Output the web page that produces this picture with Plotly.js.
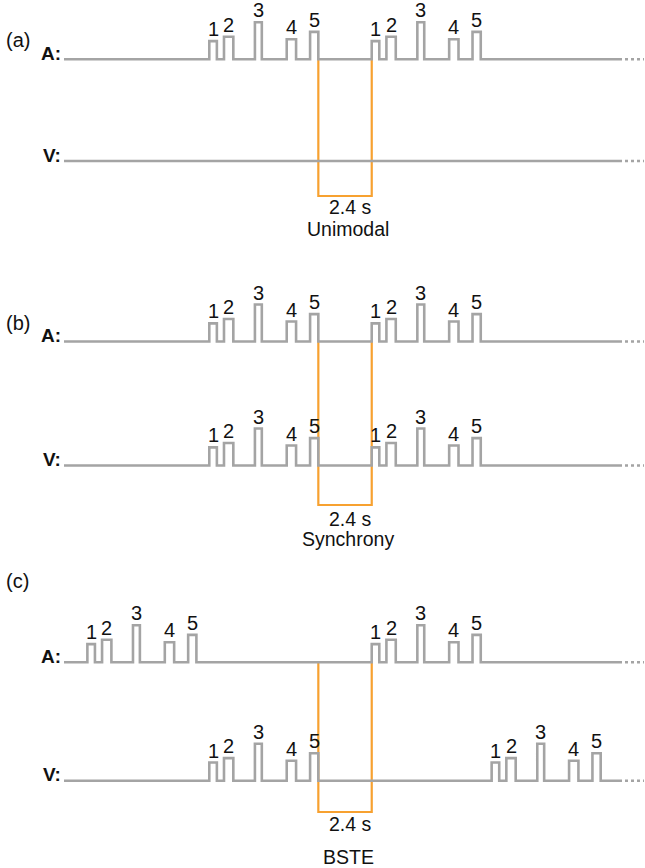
<!DOCTYPE html>
<html>
<head>
<meta charset="utf-8">
<script src="https://cdn.plot.ly/plotly-3.0.1.min.js"></script>
<style>html,body{margin:0;padding:0;background:#fff;}#chart{width:645px;height:868px;}</style>
</head>
<body>
<div id="chart"></div>
<script>
// ---------------- data ----------------
const pulseNumbers = ['1', '2', '3', '4', '5'];
const pulseOnset   = [0.00, 0.66, 2.05, 3.48, 4.53];   // s, from sequence start
const pulseOffset  = [0.34, 1.08, 2.36, 3.90, 4.90];   // s
const pulseAmp     = [0.49, 0.61, 1.00, 0.54, 0.74];   // relative amplitude
const gapLabel = '2.4 s';
const conditionNames = ['Unimodal', 'Synchrony', 'BSTE'];
const panelLetters = ['(a)', '(b)', '(c)'];
const channelNames = ['A:', 'V:'];
// sequence start times (s) per condition, per channel
const unimodalA  = [0, 7.3];
const unimodalV  = [];
const synchronyA = [0, 7.3];
const synchronyV = [0, 7.3];
const bsteA      = [-5.48, 7.3];
const bsteV      = [0, 12.69];
// silent interval marked by the bracket (s)
const gapStart = [4.9, 4.9, 4.9];
const gapEnd   = [7.3, 7.3, 7.3];

// ---------------- layout constants ----------------
const W = 645, H = 868;
const PXS = 22.25, T0PX = 209.3;            // px per s, px of t = 0
const xr = [-T0PX / PXS, (W - T0PX) / PXS];
const pxToT = p => (p - T0PX) / PXS;
const UNIT = 37;                              // px per amplitude unit
const YR = [-0.3, 1.3];
const py = p => 1 - p / H;                    // pixel row -> paper y
const domainFor = yb => [py(yb - YR[0] * UNIT), py(yb - YR[1] * UNIT)];

const panels = [
  {A: unimodalA, V: unimodalV, ybA: 59.3, ybV: 161, letterY: 40, bracketBottom: 196, gapY: 207, nameY: 229},
  {A: synchronyA, V: synchronyV, ybA: 341.5, ybV: 465.5, letterY: 323, bracketBottom: 505, gapY: 519, nameY: 539},
  {A: bsteA, V: bsteV, ybA: 662.3, ybV: 780.7, letterY: 581, bracketBottom: 812, gapY: 824, nameY: 857}
];

const GRAY = '#a4a4a4', ORANGE = '#f7a130';
const FONT = 'Liberation Sans, Arial, Helvetica, sans-serif';
const lineStart = pxToT(64), lineEnd = pxToT(622), dotStart = pxToT(625), dotEnd = pxToT(644);

const traces = [], annotations = [], shapes = [];
const layout = {
  width: W, height: H, margin: {l: 0, r: 0, t: 0, b: 0},
  paper_bgcolor: '#fff', plot_bgcolor: 'rgba(0,0,0,0)', showlegend: false,
  xaxis: {range: xr, domain: [0, 1], visible: false, fixedrange: true},
  annotations, shapes
};

let axisIdx = 0;
panels.forEach((p, pi) => {
  [['A', p.ybA], ['V', p.ybV]].forEach(([ch, yb], ci) => {
    axisIdx++;
    const yname = axisIdx === 1 ? 'y' : 'y' + axisIdx;
    const lname = axisIdx === 1 ? 'yaxis' : 'yaxis' + axisIdx;
    layout[lname] = {range: YR, domain: domainFor(yb), visible: false, fixedrange: true, anchor: 'x'};
    const starts = p[ch];
    const xs = [lineStart], ys = [0];
    starts.forEach(s => {
      pulseOnset.forEach((on, k) => {
        xs.push(s + on, s + on, s + pulseOffset[k], s + pulseOffset[k]);
        ys.push(0, pulseAmp[k], pulseAmp[k], 0);
        annotations.push({
          x: s + (on + pulseOffset[k]) / 2, y: pulseAmp[k], xref: 'x', yref: yname,
          text: pulseNumbers[k], showarrow: false, yanchor: 'bottom', yshift: -1,
          font: {family: FONT, size: 20, color: '#111'}
        });
      });
    });
    xs.push(lineEnd); ys.push(0);
    traces.push({x: xs, y: ys, xaxis: 'x', yaxis: yname, mode: 'lines', hoverinfo: 'skip',
      line: {color: GRAY, width: 2.6, shape: 'linear'}});
    traces.push({x: [dotStart, dotEnd], y: [0, 0], xaxis: 'x', yaxis: yname, mode: 'lines', hoverinfo: 'skip',
      line: {color: GRAY, width: 2.6, dash: '3px,3px'}});
    annotations.push({
      x: 63 / W, y: py(yb - 6), xref: 'paper', yref: 'paper', xanchor: 'right', yanchor: 'middle',
      text: '<b>' + channelNames[ci] + '</b>', showarrow: false,
      font: {family: FONT, size: 19, color: '#111'}
    });
  });
  // bracket
  const x0 = gapStart[pi], x1 = gapEnd[pi];
  const yt = py(p.ybA), yb2 = py(p.bracketBottom);
  shapes.push({type: 'path', xref: 'x', yref: 'paper', layer: 'below',
    path: `M ${x0},${yt} L ${x0},${yb2} L ${x1},${yb2} L ${x1},${yt}`,
    line: {color: ORANGE, width: 2.2}});
  annotations.push({x: (x0 + x1) / 2, y: py(p.gapY), xref: 'x', yref: 'paper', xshift: 5,
    text: gapLabel, showarrow: false, yanchor: 'middle', font: {family: FONT, size: 19.5, color: '#111'}});
  annotations.push({x: (x0 + x1) / 2, y: py(p.nameY), xref: 'x', yref: 'paper', xshift: 3,
    text: conditionNames[pi], showarrow: false, yanchor: 'middle', font: {family: FONT, size: 19.5, color: '#111'}});
  annotations.push({x: 4 / W, y: py(p.letterY), xref: 'paper', yref: 'paper', xanchor: 'left', yanchor: 'middle',
    text: panelLetters[pi], showarrow: false, font: {family: FONT, size: 20, color: '#111'}});
});

Plotly.newPlot('chart', traces, layout, {staticPlot: true, displayModeBar: false});
</script>
</body>
</html>
